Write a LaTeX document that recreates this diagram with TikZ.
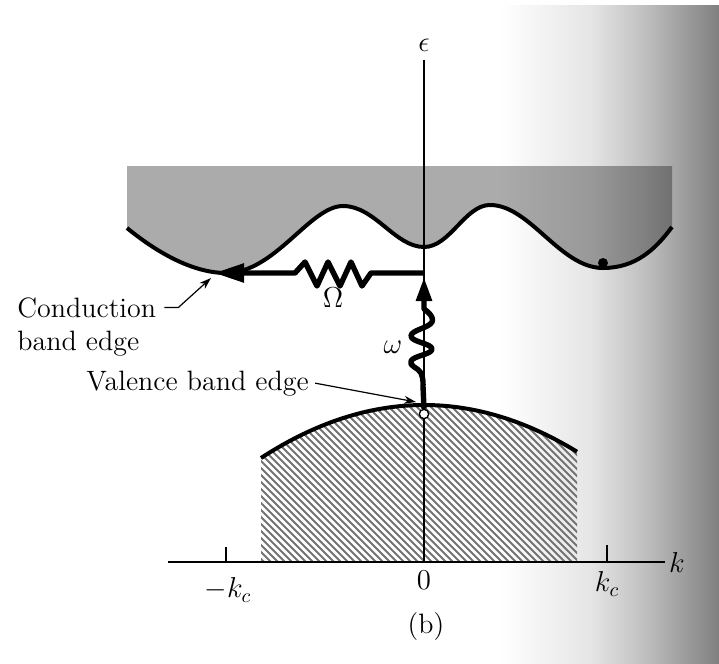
\documentclass[tikz,border=0pt]{standalone}
\usetikzlibrary{arrows.meta}
\begin{document}
\begin{tikzpicture}[x=0.5pt,y=-0.5pt,
  lbl/.style={font=\fontsize{14}{16.5}\selectfont, inner sep=0pt},
  bandedge/.style={line width=2pt},
  bigarrow/.style={line width=2.7pt, line join=round},
  pointer/.style={line width=0.6pt, -{Stealth[length=6pt,width=4pt]}},
  axisline/.style={line width=0.7pt},
  hatchline/.style={black!55, line width=1.0pt}
]
\useasboundingbox (0,0) rectangle (719,664);
% page background with shading at the right (scan)
\fill[white] (0,0) rectangle (719,664);
\shade[left color=white, right color=black!10] (500,5) rectangle (590,664);
\shade[left color=black!10, right color=black!25] (590,5) rectangle (645,664);
\shade[left color=black!25, right color=black!50] (645,5) rectangle (719,664);

% conduction band
\fill[black, fill opacity=0.33] (127,166) -- (127,228)
  .. controls (160,255) and (195,273) .. (226,273)
  .. controls (275,273) and (310,206) .. (343,206)
  .. controls (375,206) and (395,247) .. (424,247)
  .. controls (450,247) and (465,205) .. (490,205)
  .. controls (530,205) and (560,268) .. (603,268)
  .. controls (635,268) and (655,250) .. (672,227)
  -- (672,166) -- cycle;
\draw[bandedge] (127,228)
  .. controls (160,255) and (195,273) .. (226,273)
  .. controls (275,273) and (310,206) .. (343,206)
  .. controls (375,206) and (395,247) .. (424,247)
  .. controls (450,247) and (465,205) .. (490,205)
  .. controls (530,205) and (560,268) .. (603,268)
  .. controls (635,268) and (655,250) .. (672,227);
\node[circle, fill=black, inner sep=0pt, minimum size=5pt] (electron) at (603,263) {};

% valence band (hatched)
\begin{scope}
  \clip (261,562) -- plot[domain=261:577, samples=60] (\x,{405+53*((\x-424)/163)^2}) -- (577,562) -- cycle;
  \foreach \c in {-312,-305,...,186} \draw[hatchline] (\c+395,395) -- (\c+570,570);
\end{scope}
\draw[bandedge] plot[domain=261:577, samples=60] (\x,{405+53*((\x-424)/163)^2});

% axes
\node[lbl] (eps) at (424,45) {$\epsilon$};
\node[lbl] (klab) at (677,562) {$k$};
\coordinate (O) at (424,562);
\coordinate (kstart) at (168,562);
\draw[axisline] ([yshift=-4pt]eps.south) -- (O);
\draw[axisline] (kstart) -- ([xshift=-2pt]klab.west);
\coordinate (tickl) at (226,562);
\coordinate (tickr) at (607,562);
\draw[axisline] (tickl) -- ++(0,-15);
\draw[axisline] (tickr) -- ++(0,-17);
\node[lbl] (mkc) at (228,590) {$-k_c$};
\node[lbl] (zero) at (424,580) {$0$};
\node[lbl] (kc) at (607,584) {$k_c$};
\node[lbl] (cap) at (426,627) {(b)};

% transitions
\coordinate (corner) at (424,273);
\coordinate (cbtip) at (214,273);
\coordinate (vtip) at (424,277);
\node[circle, draw, fill=white, line width=0.6pt, inner sep=0pt, minimum size=4.6pt] (hole) at (424,414) {};
% phonon (zigzag)
\draw[bigarrow, -{Triangle[length=15pt,width=9pt]}] (corner) -- (371,273)
  -- (362,286) -- (351,262) -- (340,286) -- (328,262) -- (317,286) -- (305,262) -- (295,273)
  -- (cbtip);
% photon (wavy)
\draw[bigarrow, -{Triangle[length=12pt,width=7.5pt]}] (hole.north) -- (423,386)
  -- plot[smooth, tension=0.8] coordinates {(423,386) (421,373) (411,361) (432,349) (411,336) (432,322) (424,309)}
  -- (vtip);
\node[circle, draw, fill=white, line width=0.6pt, inner sep=0pt, minimum size=4.6pt] at (hole) {};
\node[lbl] (Om) at (333,298) {$\Omega$};
\node[lbl] (om) at (393,347) {$\omega$};

% labels with pointers
\node[lbl, anchor=base west] (cond) at (17,317) {Conduction};
\node[lbl, anchor=base west] (bedge) at (17,350) {band edge};
\coordinate (cbptr) at (211,278);
\draw[pointer] ([xshift=4pt]cond.east) -- ++(7pt,0) -- (cbptr);
\node[lbl, anchor=base west] (val) at (86,390) {Valence band edge};
\coordinate (vbptr) at (416,402);
\draw[pointer] ([xshift=3pt]val.east) -- (vbptr);
\end{tikzpicture}
\end{document}
